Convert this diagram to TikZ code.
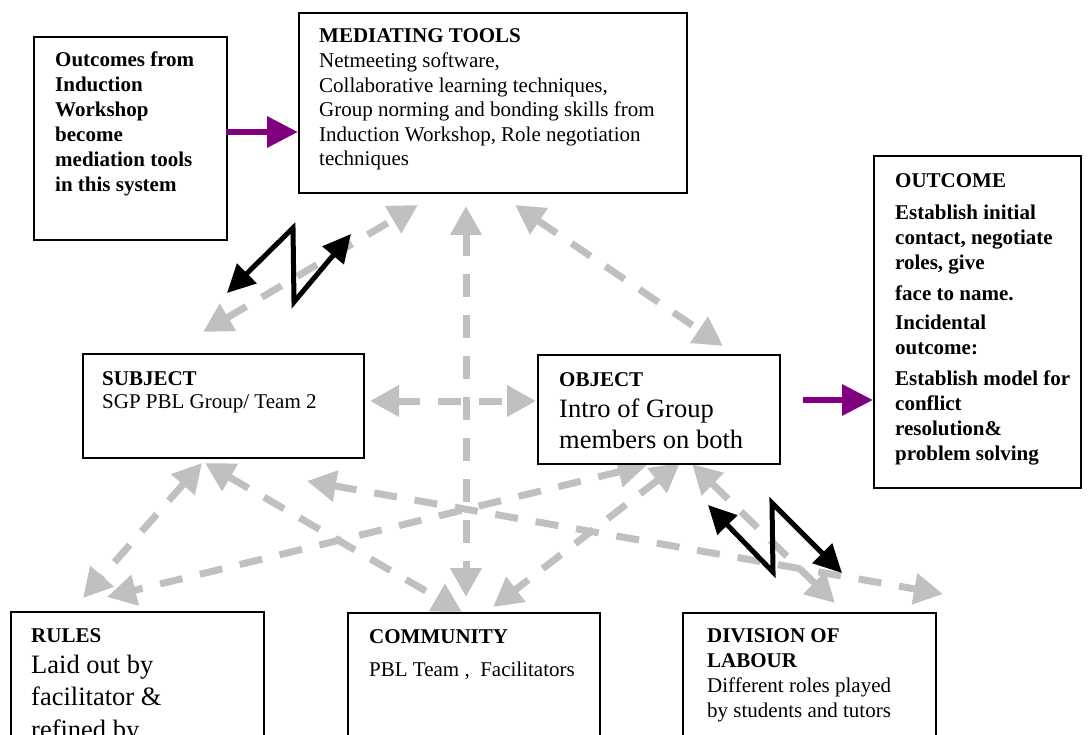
\documentclass[tikz,border=0pt]{standalone}
\usepackage{fontspec}
\setmainfont{Liberation Serif}
\usetikzlibrary{arrows.meta}
\definecolor{linkgray}{HTML}{C0C0C0}
\definecolor{toolpurple}{HTML}{800080}
\tikzset{
  box/.style={
    draw=black,
    line width=2pt,
    fill=white,
    anchor=north west,
    inner sep=0pt
  },
  % multi-line texts are placed at the baseline of their last line
  txt/.style={
    anchor=base west,
    inner sep=0pt,
    align=left,
    font=\fontsize{21}{24.6}\selectfont
  },
  head/.style={txt, font=\fontsize{21}{24.6}\selectfont\bfseries},
  big/.style={txt, font=\fontsize{26.5}{30.5}\selectfont},
  link/.style={
    linkgray,
    line width=7pt,
    dash pattern=on 23pt off 18pt,
    {Triangle[length=29pt,width=30pt]}-{Triangle[length=29pt,width=30pt]}
  },
  feed/.style={
    toolpurple,
    line width=6.5pt,
    -{Triangle[length=31pt,width=30pt]}
  },
  bolt/.style={
    black,
    line width=5pt,
    {Triangle[length=28pt,width=27pt]}-{Triangle[length=28pt,width=27pt]}
  }
}

\begin{document}
\begin{tikzpicture}[x=1pt,y=-1pt]
\useasboundingbox (0,0) rectangle (1090,735);
\clip (0,0) rectangle (1090,735);
% ends of the grey links
\coordinate (subj-tools) at (203,332);
\coordinate (tools-subj) at (418,205);
\coordinate (tools-obj) at (515,205);
\coordinate (obj-tools) at (723,346);
\coordinate (tools-comm) at (466,206);
\coordinate (comm-tools) at (466,597);
\coordinate (subj-obj) at (370,401);
\coordinate (obj-subj) at (536,401);
\coordinate (subj-rules) at (202,463);
\coordinate (rules-subj) at (83,598);
\coordinate (subj-comm) at (205,463);
\coordinate (comm-subj) at (462,612);
\coordinate (subj-div) at (307,481);
\coordinate (div-subj) at (943,594);
\coordinate (obj-rules) at (647,465);
\coordinate (rules-obj) at (107,597);
\coordinate (obj-comm) at (680,463);
\coordinate (comm-obj) at (493,607);
\coordinate (obj-div) at (692,464);
\coordinate (div-obj) at (835,603);
\foreach \from/\to in {subj-tools/tools-subj, tools-obj/obj-tools,
    tools-comm/comm-tools, subj-obj/obj-subj, subj-rules/rules-subj,
    subj-comm/comm-subj, subj-div/div-subj, obj-rules/rules-obj,
    obj-comm/comm-obj, obj-div/div-obj}
  \draw[link] (\from) -- (\to);

% boxes
\node[box, minimum width=193pt, minimum height=203pt] (outcomes) at (33,36) {};
\node[box, minimum width=388pt, minimum height=180pt] (tools) at (298,12) {};
\node[box, minimum width=281pt, minimum height=104pt] (subject) at (82,353) {};
\node[box, minimum width=242pt, minimum height=109pt] (object) at (537,354) {};
\node[box, minimum width=207pt, minimum height=332pt] (outcome) at (873,155) {};
\node[box, minimum width=253pt, minimum height=160pt] (rules) at (10,611) {};
\node[box, minimum width=252pt, minimum height=160pt] (community) at (347,612) {};
\node[box, minimum width=253pt, minimum height=160pt] (division) at (682,612) {};

% texts
\node[head, font=\fontsize{21}{25}\selectfont\bfseries] (outcomes-txt) at (55,192) {Outcomes from\\Induction\\Workshop\\become\\mediation tools\\in this system};
\node[head] (tools-head) at (319,43) {MEDIATING TOOLS};
\node[txt] (tools-txt) at (319,166) {Netmeeting software,\\Collaborative learning techniques,\\Group norming and bonding skills from\\Induction Workshop, Role negotiation\\techniques};
\node[head] (subject-head) at (102,385) {SUBJECT};
\node[txt] (subject-txt) at (102,408) {SGP PBL Group/ Team 2};
\node[head] (object-head) at (559,386) {OBJECT};
\node[big] (object-txt) at (559,448) {Intro of Group\\members on both};
\node[head, font=\fontsize{21}{25}\selectfont\bfseries] (outcome-txt) at (895,460)
  {OUTCOME\\[7pt]Establish initial\\contact, negotiate\\roles, give\\[6pt]face to name.\\[4pt]Incidental\\outcome:\\[6pt]Establish model for\\conflict\\resolution\&\\problem solving};
\node[head] (rules-head) at (31,642) {RULES};
\node[big, font=\fontsize{26.5}{32.5}\selectfont] (rules-txt) at (31,738) {Laid out by\\facilitator \&\\refined by};
\node[head] (community-head) at (369,643) {COMMUNITY};
\node[txt] (community-txt) at (369,676) {PBL Team ,\ \ Facilitators};
\node[head] (division-head) at (707,667) {DIVISION OF\\LABOUR};
\node[txt] (division-txt) at (707,717) {Different roles played\\by students and tutors};

% purple arrows
\coordinate (outcomes-out) at (226,132);
\coordinate (tools-in) at (298,132);
\coordinate (object-out) at (803,400);
\coordinate (outcome-in) at (873,400);
\draw[feed] (outcomes-out) -- (tools-in);
\draw[feed] (object-out) -- (outcome-in);

% black bolts
\coordinate (bolt1-tip) at (227,293);
\coordinate (bolt1-a) at (293,228);
\coordinate (bolt1-b) at (294,302);
\coordinate (bolt1-end) at (351,234);
\coordinate (bolt2-tip) at (708,505);
\coordinate (bolt2-a) at (773,572);
\coordinate (bolt2-b) at (772,503);
\coordinate (bolt2-end) at (842,573);
\draw[bolt] (bolt1-tip) -- (bolt1-a) -- (bolt1-b) -- (bolt1-end);
\draw[bolt] (bolt2-tip) -- (bolt2-a) -- (bolt2-b) -- (bolt2-end);
\end{tikzpicture}
\end{document}
